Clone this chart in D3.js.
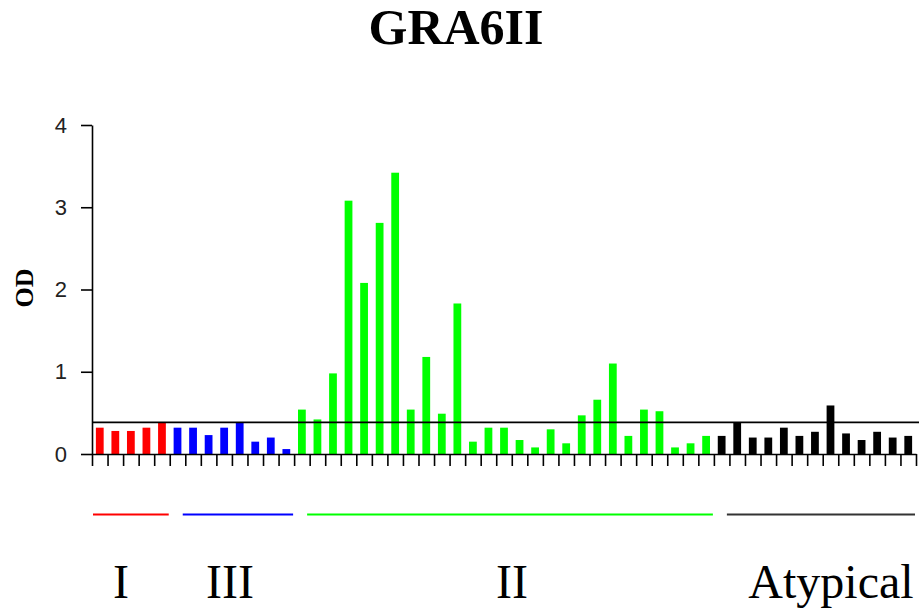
<!DOCTYPE html>
<head>
    <meta charset="utf-8" />
    <script src="https://d3js.org/d3.v7.min.js"></script>
    <style>
        body {
            margin: 0;
            background: #fff;
        }
        .axis text {
            font-family: "Liberation Sans", Arial, sans-serif;
            font-size: 22px;
            fill: #222;
        }
        .axis path, .axis line {
            stroke: #000;
            stroke-width: 1.6px;
        }
    </style>
    <title>GRA6II</title>
</head>

<body>
    <script>
        // groups of strains, in bar order
        var groups = ["I", "III", "II", "Atypical"];
        var groupColors = ["#ff0000", "#0000ff", "#00ff00", "#000000"];

        // OD values, one array per group
        var odI = [0.32, 0.28, 0.28, 0.32, 0.385];
        var odIII = [0.32, 0.32, 0.23, 0.32, 0.385, 0.15, 0.20, 0.06];
        var odII = [0.54, 0.42, 0.98, 3.08, 2.08, 2.81, 3.42, 0.54, 1.18, 0.49,
                    1.83, 0.15, 0.32, 0.32, 0.17, 0.08, 0.30, 0.13, 0.47, 0.66,
                    1.10, 0.22, 0.54, 0.52, 0.08, 0.13, 0.22];
        var odAtypical = [0.22, 0.385, 0.20, 0.20, 0.32, 0.22, 0.27, 0.59, 0.25,
                          0.17, 0.27, 0.20, 0.22];
        var cutoff = 0.385;
        var yTicks = [0, 1, 2, 3, 4];

        var width = 919,
            height = 610;

        var series = [odI, odIII, odII, odAtypical];
        var bars = [];
        var spans = [];
        series.forEach(function (vals, g) {
            spans.push({ group: g, start: bars.length, end: bars.length + vals.length });
            vals.forEach(function (v) {
                bars.push({ id: bars.length, group: g, value: v });
            });
        });

        var svg = d3.select("body").append("svg")
            .attr("width", width)
            .attr("height", height);

        var plotLeft = 92, plotRight = 916, plotTop = 125, plotBottom = 454;

        var x = d3.scaleBand()
            .domain(bars.map(d => d.id))
            .range([plotLeft, plotRight])
            .paddingInner(0.5)
            .paddingOuter(0.25);

        // linear index scale, for the tick marks between bars
        var xi = d3.scaleLinear().domain([0, bars.length]).range([plotLeft, plotRight]);

        var y = d3.scaleLinear().domain([0, 4]).range([plotBottom, plotTop]);

        // title
        svg.append("text")
            .attr("x", 456)
            .attr("y", 44)
            .attr("text-anchor", "middle")
            .style("font-family", "'Liberation Serif', 'Times New Roman', serif")
            .style("font-weight", "bold")
            .style("font-size", "50px")
            .text("GRA6II");

        // bars
        svg.append("g").selectAll("rect")
            .data(bars)
            .join("rect")
            .attr("x", d => x(d.id))
            .attr("width", x.bandwidth())
            .attr("y", d => y(d.value))
            .attr("height", d => y(0) - y(d.value))
            .attr("fill", d => groupColors[d.group]);

        // axes
        svg.append("g")
            .attr("class", "axis")
            .attr("transform", "translate(" + plotLeft + ",0)")
            .call(d3.axisLeft(y).tickValues(yTicks).tickSize(11).tickSizeOuter(0).tickPadding(14)
                .tickFormat(d3.format("d")));

        svg.append("g")
            .attr("class", "axis")
            .attr("transform", "translate(0," + plotBottom + ")")
            .call(d3.axisBottom(xi).tickValues(d3.range(bars.length + 1)).tickSize(12)
                .tickSizeOuter(0).tickFormat(""));

        // cut-off line
        svg.append("line")
            .attr("x1", plotLeft)
            .attr("x2", width)
            .attr("y1", y(cutoff))
            .attr("y2", y(cutoff))
            .attr("stroke", "#000")
            .attr("stroke-width", 1.6);

        // y label
        svg.append("text")
            .attr("transform", "translate(33,288) rotate(-90)")
            .attr("text-anchor", "middle")
            .style("font-family", "'Liberation Serif', 'Times New Roman', serif")
            .style("font-weight", "bold")
            .style("font-size", "26px")
            .text("OD");

        // group lines and names under the chart
        var lineY = 514.5;
        var gl = svg.append("g").selectAll("g")
            .data(spans)
            .join("g");

        function lineStart(d) { return xi(d.start) + (d.group === 0 ? 1 : 13); }
        function lineEnd(d) { return xi(d.end) - 1; }

        gl.append("line")
            .attr("x1", lineStart)
            .attr("x2", lineEnd)
            .attr("y1", lineY)
            .attr("y2", lineY)
            .attr("stroke", d => d.group === 3 ? "#333" : groupColors[d.group])
            .attr("stroke-width", 2);

        // labels sit a little off the middle of their line, as in the original
        var labelShift = [-10, -8, 2, 10];
        gl.append("text")
            .attr("x", d => (lineStart(d) + lineEnd(d)) / 2 + labelShift[d.group])
            .attr("y", 598)
            .attr("text-anchor", "middle")
            .style("font-family", "'Liberation Serif', 'Times New Roman', serif")
            .style("font-size", "48px")
            .text(d => groups[d.group]);
    </script>
</body>
